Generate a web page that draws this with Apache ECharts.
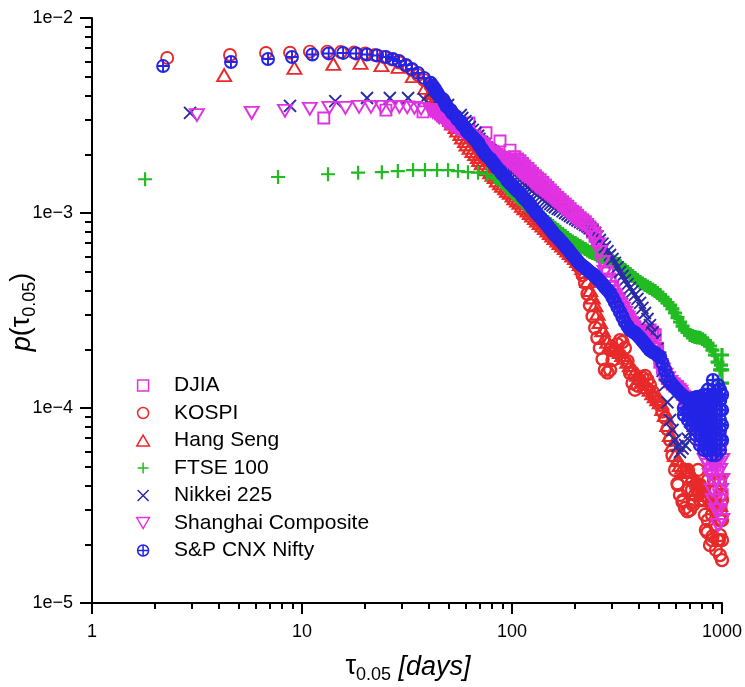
<!DOCTYPE html>
<html>
<head>
<meta charset="utf-8">
<script src="https://cdn.jsdelivr.net/npm/echarts@6/dist/echarts.min.js"></script>
<style>
  html, body { margin: 0; padding: 0; background: #fff; }
  #chart { width: 745px; height: 687px; }
</style>
</head>
<body>
<div id="chart"></div>
<script>
// ---- axis ticks -------------------------------------------------------
const xMajor = [1, 10, 100, 1000];
const xTickLabels = ['1', '10', '100', '1000'];
const xMinor = [2, 3, 4, 5, 6, 7, 8, 9, 20, 30, 40, 50, 60, 70, 80, 90, 200, 300, 400, 500, 600, 700, 800, 900];
const yMajor = [1e-5, 1e-4, 1e-3, 1e-2];
const yTickLabels = ['1e\u22125', '1e\u22124', '1e\u22123', '1e\u22122'];
const yMinor = [2e-5, 3e-5, 4e-5, 5e-5, 6e-5, 7e-5, 8e-5, 9e-5,
                2e-4, 3e-4, 4e-4, 5e-4, 6e-4, 7e-4, 8e-4, 9e-4,
                2e-3, 3e-3, 4e-3, 5e-3, 6e-3, 7e-3, 8e-3, 9e-3];

// ---- data -------------------------------------------------------------
// Return-interval positions (days) shared by the dense part of every curve
const tauGrid = [41, 42, 43, 44, 45, 47, 48, 49, 51, 52, 54, 55, 57, 58, 60, 61, 63, 65, 67, 69,
                 70, 72, 74, 76, 79, 81, 83, 85, 88, 90, 93, 95, 98, 101, 103, 106, 109, 112, 115, 119,
                 122, 125, 129, 132, 136, 140, 144, 148, 152, 156, 160, 165, 169, 174, 179, 184, 189, 194, 200, 205,
                 211, 217, 223, 229, 235, 242, 249, 255, 262, 270, 277, 285, 293, 301, 309, 318, 327, 336, 345, 355,
                 365, 375, 385, 396, 407, 418, 430, 442, 454, 467, 480, 493, 507, 521, 536, 550, 566, 581, 598, 614,
                 631, 649, 667, 685, 704, 724, 744, 765, 786, 808, 830, 853, 877, 901, 926, 952, 978];

// DJIA
const djiaHeadTau = [12.7, 25.1, 37.7, 50.1, 62.4, 75.2, 87.7, 97.8];
const djiaHeadP = [3.07e-3, 3.37e-3, 3.30e-3, 3.11e-3, 2.90e-3, 2.58e-3, 2.34e-3, 2.10e-3];
const djiaBodyStart = 34;
const djiaBodyP = [1.94e-3, 1.89e-3, 1.85e-3, 1.79e-3, 1.74e-3, 1.69e-3, 1.64e-3, 1.59e-3, 1.55e-3, 1.51e-3,
                   1.48e-3, 1.43e-3, 1.39e-3, 1.35e-3, 1.31e-3, 1.27e-3, 1.24e-3, 1.20e-3, 1.17e-3, 1.14e-3,
                   1.11e-3, 1.08e-3, 1.05e-3, 1.02e-3, 1.00e-3, 9.71e-4, 9.43e-4, 9.21e-4, 8.99e-4, 8.68e-4,
                   8.38e-4, 8.00e-4, 7.62e-4, 7.02e-4, 6.46e-4, 6.02e-4, 5.61e-4, 5.04e-4, 4.53e-4, 4.17e-4,
                   3.84e-4, 3.65e-4, 3.46e-4, 3.28e-4, 3.11e-4, 2.97e-4, 2.83e-4, 2.70e-4, 2.58e-4, 2.50e-4,
                   2.43e-4, 2.43e-4, 2.43e-4, 2.47e-4, 2.51e-4, 2.44e-4, 2.37e-4, 2.02e-4, 1.72e-4, 1.60e-4,
                   1.48e-4, 1.42e-4, 1.36e-4, 1.33e-4, 1.30e-4, 1.27e-4, 1.24e-4, 1.18e-4, 1.13e-4, 1.05e-4,
                   9.77e-5, 9.10e-5, 8.48e-5, 8.09e-5, 7.71e-5, 7.27e-5, 6.85e-5, 6.46e-5, 6.09e-5, 5.57e-5,
                   5.10e-5, 4.67e-5, 4.27e-5];
const djiaTailTau = [896, 936, 967, 989, 1000];
const djiaTailP = [4.81e-5, 3.37e-5, 4.03e-5, 3.00e-5, 3.58e-5];

// KOSPI
const kospiHeadTau = [2.28, 4.54, 6.74, 8.77, 10.9, 13.2, 15.3, 17.7, 20.0, 22.3, 24.6, 26.8, 29.0, 31.3, 33.4, 35.7, 38.1];
const kospiHeadP = [6.24e-3, 6.46e-3, 6.62e-3, 6.64e-3, 6.72e-3, 6.72e-3, 6.69e-3, 6.65e-3, 6.58e-3, 6.46e-3,
                    6.31e-3, 6.13e-3, 5.91e-3, 5.67e-3, 5.41e-3, 5.10e-3, 4.81e-3];
const kospiBodyStart = 0;
const kospiBodyP = [4.48e-3, 4.32e-3, 4.17e-3, 4.00e-3, 3.84e-3, 3.69e-3, 3.54e-3, 3.42e-3, 3.30e-3, 3.16e-3,
                    3.03e-3, 2.93e-3, 2.83e-3, 2.73e-3, 2.63e-3, 2.54e-3, 2.45e-3, 2.37e-3, 2.29e-3, 2.21e-3,
                    2.13e-3, 2.04e-3, 1.96e-3, 1.89e-3, 1.83e-3, 1.76e-3, 1.70e-3, 1.64e-3, 1.58e-3, 1.53e-3,
                    1.48e-3, 1.43e-3, 1.38e-3, 1.34e-3, 1.30e-3, 1.25e-3, 1.21e-3, 1.17e-3, 1.13e-3, 1.09e-3,
                    1.05e-3, 1.01e-3, 9.77e-4, 9.43e-4, 9.10e-4, 8.78e-4, 8.48e-4, 8.23e-4, 7.99e-4, 7.71e-4,
                    7.45e-4, 7.23e-4, 7.02e-4, 6.82e-4, 6.62e-4, 6.39e-4, 6.16e-4, 5.95e-4, 5.74e-4, 5.48e-4,
                    5.23e-4, 4.80e-4, 4.38e-4, 3.85e-4, 3.37e-4, 2.95e-4, 2.58e-4, 2.29e-4, 2.03e-4, 1.78e-4,
                    1.57e-4, 1.52e-4, 1.57e-4, 1.76e-4, 1.98e-4, 2.12e-4, 2.23e-4, 2.18e-4, 2.03e-4, 1.74e-4,
                    1.51e-4, 1.34e-4, 1.24e-4, 1.30e-4, 1.39e-4, 1.43e-4, 1.46e-4, 1.39e-4, 1.31e-4, 1.21e-4,
                    1.13e-4, 1.08e-4, 1.04e-4, 9.60e-5, 8.89e-5, 7.80e-5, 6.85e-5, 5.70e-5, 4.81e-5, 4.10e-5,
                    3.58e-5, 3.30e-5, 3.07e-5, 2.95e-5, 3.00e-5, 3.30e-5, 3.58e-5, 3.80e-5, 4.03e-5, 3.40e-5,
                    2.83e-5, 2.30e-5, 1.98e-5, 2.20e-5, 2.51e-5, 2.10e-5, 1.76e-5];
const kospiTailTau = [617, 652, 689, 728, 769, 812, 839, 867, 896, 916, 946, 967, 989, 1000, 1000,
                      821, 857, 857, 896, 896, 936, 936, 978, 978, 978, 1000, 1000, 786, 752, 719, 689];
const kospiTailP = [4.03e-5, 3.37e-5, 4.81e-5, 3.18e-5, 4.81e-5, 3.80e-5, 2.37e-5, 3.37e-5, 2.10e-5, 4.27e-5,
                    3.00e-5, 2.10e-5, 3.58e-5, 2.66e-5, 1.66e-5,
                    3.37e-5, 4.27e-5, 2.66e-5, 3.80e-5, 2.83e-5, 3.80e-5, 1.87e-5, 4.27e-5, 2.66e-5, 2.23e-5,
                    3.37e-5, 2.10e-5, 3.37e-5, 4.03e-5, 3.80e-5, 3.80e-5];

// Hang Seng
const hsHeadTau = [4.26, 9.2, 14.1, 19.0, 23.9, 28.8, 33.7, 38.6];
const hsHeadP = [5.10e-3, 5.55e-3, 5.81e-3, 5.88e-3, 5.74e-3, 5.61e-3, 5.04e-3, 4.38e-3];
const hsBodyStart = 0;
const hsBodyP = [4.13e-3, 3.98e-3, 3.84e-3, 3.69e-3, 3.54e-3, 3.40e-3, 3.26e-3, 3.13e-3, 3.00e-3, 2.88e-3,
                 2.76e-3, 2.65e-3, 2.54e-3, 2.44e-3, 2.34e-3, 2.25e-3, 2.16e-3, 2.08e-3, 2.01e-3, 1.94e-3,
                 1.87e-3, 1.80e-3, 1.74e-3, 1.68e-3, 1.62e-3, 1.57e-3, 1.53e-3, 1.47e-3, 1.42e-3, 1.38e-3,
                 1.34e-3, 1.30e-3, 1.27e-3, 1.23e-3, 1.19e-3, 1.16e-3, 1.13e-3, 1.09e-3, 1.06e-3, 1.03e-3,
                 1.00e-3, 9.71e-4, 9.43e-4, 9.16e-4, 8.89e-4, 8.63e-4, 8.38e-4, 8.14e-4, 7.90e-4, 7.67e-4,
                 7.45e-4, 7.23e-4, 7.02e-4, 6.82e-4, 6.62e-4, 6.43e-4, 6.24e-4, 6.06e-4, 5.88e-4, 5.68e-4,
                 5.48e-4, 5.23e-4, 4.98e-4, 4.48e-4, 4.03e-4, 3.69e-4, 3.37e-4, 3.05e-4, 2.76e-4, 2.51e-4,
                 2.29e-4, 2.19e-4, 2.10e-4, 2.06e-4, 2.03e-4, 1.98e-4, 1.94e-4, 1.87e-4, 1.81e-4, 1.73e-4,
                 1.66e-4, 1.59e-4, 1.53e-4, 1.48e-4, 1.43e-4, 1.38e-4, 1.33e-4, 1.28e-4, 1.24e-4, 1.19e-4,
                 1.15e-4, 1.11e-4, 1.07e-4, 9.90e-5, 9.21e-5, 8.18e-5, 7.27e-5, 6.46e-5, 5.74e-5, 5.41e-5,
                 5.10e-5, 4.95e-5, 4.81e-5, 4.75e-5, 4.70e-5, 4.48e-5, 4.27e-5, 4.15e-5, 4.03e-5, 3.90e-5,
                 3.80e-5, 3.58e-5, 3.37e-5, 3.27e-5, 3.18e-5, 3.18e-5, 3.18e-5];
const hsTailTau = [];
const hsTailP = [];

// FTSE 100
const ftseHeadTau = [1.79, 7.69, 13.3, 18.5, 24.0, 28.6, 33.8, 38.5, 44.0, 49.6, 55.3, 61.7, 68.9, 76.0];
const ftseHeadP = [1.49e-3, 1.53e-3, 1.58e-3, 1.61e-3, 1.62e-3, 1.64e-3, 1.66e-3, 1.66e-3, 1.66e-3, 1.66e-3,
                   1.64e-3, 1.62e-3, 1.61e-3, 1.58e-3];
const ftseBodyStart = 26;
const ftseBodyP = [1.53e-3, 1.50e-3, 1.48e-3, 1.43e-3, 1.39e-3, 1.35e-3, 1.31e-3, 1.27e-3, 1.24e-3, 1.21e-3,
                   1.18e-3, 1.14e-3, 1.11e-3, 1.08e-3, 1.06e-3, 1.03e-3, 1.01e-3, 9.87e-4, 9.65e-4, 9.43e-4,
                   9.21e-4, 8.99e-4, 8.78e-4, 8.58e-4, 8.38e-4, 8.18e-4, 7.99e-4, 7.80e-4, 7.62e-4, 7.44e-4,
                   7.27e-4, 7.14e-4, 7.02e-4, 6.89e-4, 6.77e-4, 6.65e-4, 6.54e-4, 6.42e-4, 6.31e-4, 6.23e-4,
                   6.16e-4, 6.09e-4, 6.02e-4, 5.95e-4, 5.88e-4, 5.81e-4, 5.74e-4, 5.67e-4, 5.61e-4, 5.48e-4,
                   5.35e-4, 5.22e-4, 5.10e-4, 4.98e-4, 4.87e-4, 4.75e-4, 4.64e-4, 4.53e-4, 4.43e-4, 4.35e-4,
                   4.27e-4, 4.20e-4, 4.13e-4, 4.05e-4, 3.98e-4, 3.89e-4, 3.80e-4, 3.69e-4, 3.58e-4, 3.47e-4,
                   3.37e-4, 3.22e-4, 3.07e-4, 2.91e-4, 2.76e-4, 2.63e-4, 2.51e-4, 2.44e-4, 2.37e-4, 2.34e-4,
                   2.31e-4, 2.30e-4, 2.29e-4, 2.25e-4, 2.21e-4, 2.15e-4, 2.08e-4, 1.98e-4, 1.87e-4, 1.72e-4,
                   1.57e-4];
const ftseTailTau = [989, 1000, 1000, 1000];
const ftseTailP = [1.66e-4, 1.87e-4, 1.57e-4, 1.34e-4];

// Nikkei 225
const nikkeiHeadTau = [2.93, 8.77, 14.4, 20.4, 26.2, 32.0, 38.1, 43.5, 49.6];
const nikkeiHeadP = [3.26e-3, 3.54e-3, 3.75e-3, 3.89e-3, 3.89e-3, 3.89e-3, 3.84e-3, 3.75e-3, 3.58e-3];
const nikkeiBodyStart = 12;
const nikkeiBodyP = [3.18e-3, 3.07e-3, 2.96e-3, 2.86e-3, 2.76e-3, 2.67e-3, 2.58e-3, 2.49e-3, 2.40e-3, 2.31e-3,
                     2.23e-3, 2.16e-3, 2.10e-3, 2.04e-3, 1.98e-3, 1.92e-3, 1.87e-3, 1.81e-3, 1.76e-3, 1.71e-3,
                     1.66e-3, 1.61e-3, 1.57e-3, 1.52e-3, 1.48e-3, 1.43e-3, 1.39e-3, 1.36e-3, 1.33e-3, 1.30e-3,
                     1.27e-3, 1.24e-3, 1.21e-3, 1.18e-3, 1.15e-3, 1.13e-3, 1.11e-3, 1.09e-3, 1.07e-3, 1.05e-3,
                     1.04e-3, 1.02e-3, 1.00e-3, 9.82e-4, 9.65e-4, 9.48e-4, 9.32e-4, 9.15e-4, 8.99e-4, 8.83e-4,
                     8.68e-4, 8.53e-4, 8.38e-4, 8.14e-4, 7.90e-4, 7.58e-4, 7.27e-4, 6.97e-4, 6.69e-4, 6.38e-4,
                     6.09e-4, 5.81e-4, 5.55e-4, 5.26e-4, 4.98e-4, 4.75e-4, 4.53e-4, 4.32e-4, 4.13e-4, 3.96e-4,
                     3.80e-4, 3.63e-4, 3.46e-4, 3.26e-4, 3.07e-4, 2.86e-4, 2.66e-4, 2.44e-4, 2.23e-4, 2.01e-4,
                     1.81e-4, 1.55e-4, 1.31e-4, 1.07e-4, 8.68e-5, 7.71e-5, 6.85e-5, 6.38e-5, 5.95e-5, 6.20e-5,
                     6.46e-5, 6.97e-5, 7.53e-5, 8.09e-5, 8.68e-5, 8.94e-5, 9.21e-5, 9.05e-5, 8.89e-5, 8.53e-5,
                     8.18e-5, 7.94e-5, 7.71e-5, 7.80e-5, 7.90e-5];
const nikkeiTailTau = [];
const nikkeiTailP = [];

// Shanghai Composite
const shHeadTau = [3.16, 5.76, 8.3, 10.9, 13.5, 16.1, 18.7, 21.3, 23.9, 26.5, 29.1, 31.7, 34.3, 36.9];
const shHeadP = [3.18e-3, 3.26e-3, 3.34e-3, 3.42e-3, 3.46e-3, 3.46e-3, 3.50e-3, 3.50e-3, 3.50e-3, 3.50e-3,
                 3.50e-3, 3.48e-3, 3.46e-3, 3.42e-3];
const shBodyStart = 0;
const shBodyP = [3.37e-3, 3.31e-3, 3.26e-3, 3.18e-3, 3.11e-3, 3.03e-3, 2.96e-3, 2.91e-3, 2.86e-3, 2.81e-3,
                 2.76e-3, 2.71e-3, 2.66e-3, 2.63e-3, 2.60e-3, 2.54e-3, 2.48e-3, 2.42e-3, 2.37e-3, 2.31e-3,
                 2.26e-3, 2.21e-3, 2.16e-3, 2.11e-3, 2.06e-3, 2.02e-3, 1.98e-3, 1.95e-3, 1.92e-3, 1.89e-3,
                 1.87e-3, 1.84e-3, 1.81e-3, 1.76e-3, 1.72e-3, 1.67e-3, 1.62e-3, 1.58e-3, 1.55e-3, 1.51e-3,
                 1.48e-3, 1.43e-3, 1.39e-3, 1.36e-3, 1.33e-3, 1.30e-3, 1.27e-3, 1.24e-3, 1.21e-3, 1.18e-3,
                 1.15e-3, 1.12e-3, 1.09e-3, 1.06e-3, 1.04e-3, 1.01e-3, 9.88e-4, 9.60e-4, 9.32e-4, 9.15e-4,
                 8.99e-4, 8.83e-4, 8.68e-4, 8.43e-4, 8.18e-4, 7.85e-4, 7.53e-4, 6.90e-4, 6.31e-4, 5.60e-4,
                 4.98e-4, 4.56e-4, 4.17e-4, 3.95e-4, 3.75e-4, 3.55e-4, 3.37e-4, 3.22e-4, 3.07e-4, 2.90e-4,
                 2.73e-4, 2.59e-4, 2.45e-4, 2.37e-4, 2.29e-4, 2.23e-4, 2.18e-4, 2.13e-4, 2.08e-4, 2.01e-4,
                 1.94e-4, 1.80e-4, 1.66e-4, 1.57e-4, 1.48e-4, 1.42e-4, 1.36e-4, 1.32e-4, 1.28e-4, 1.24e-4,
                 1.21e-4, 1.14e-4, 1.07e-4, 9.75e-5, 8.89e-5, 8.38e-5, 7.90e-5, 7.67e-5, 7.45e-5, 7.23e-5,
                 7.02e-5, 6.73e-5, 6.46e-5, 6.09e-5, 5.74e-5, 5.25e-5, 4.81e-5];
const shTailTau = [830, 877, 906, 936, 967, 989, 1000, 957, 896,
                   786, 830, 857, 896, 936, 936, 978, 978, 1000, 1000, 957];
const shTailP = [5.41e-5, 4.53e-5, 3.37e-5, 4.27e-5, 3.00e-5, 3.80e-5, 2.66e-5, 6.85e-5, 8.68e-5,
                 6.46e-5, 5.95e-5, 5.10e-5, 3.80e-5, 5.41e-5, 3.00e-5, 6.09e-5, 3.37e-5, 5.41e-5, 4.27e-5, 2.51e-5];

// S&P CNX Nifty
const niftyHeadTau = [2.18, 4.59, 6.89, 8.96, 11.2, 13.4, 15.7, 18.1, 20.4, 22.8, 25.1, 27.1, 29.0, 31.3, 33.4, 35.7, 38.1];
const niftyHeadP = [5.67e-3, 5.95e-3, 6.16e-3, 6.31e-3, 6.50e-3, 6.58e-3, 6.62e-3, 6.58e-3, 6.50e-3, 6.42e-3,
                    6.31e-3, 6.16e-3, 6.02e-3, 5.74e-3, 5.48e-3, 5.23e-3, 4.93e-3];
const niftyBodyStart = 0;
const niftyBodyP = [4.64e-3, 4.48e-3, 4.32e-3, 4.15e-3, 3.98e-3, 3.82e-3, 3.66e-3, 3.51e-3, 3.37e-3, 3.25e-3,
                    3.14e-3, 3.03e-3, 2.93e-3, 2.83e-3, 2.73e-3, 2.63e-3, 2.54e-3, 2.45e-3, 2.37e-3, 2.29e-3,
                    2.21e-3, 2.12e-3, 2.03e-3, 1.96e-3, 1.89e-3, 1.82e-3, 1.76e-3, 1.70e-3, 1.64e-3, 1.58e-3,
                    1.53e-3, 1.47e-3, 1.42e-3, 1.38e-3, 1.34e-3, 1.30e-3, 1.27e-3, 1.22e-3, 1.18e-3, 1.14e-3,
                    1.10e-3, 1.06e-3, 1.02e-3, 9.86e-4, 9.54e-4, 9.21e-4, 8.89e-4, 8.58e-4, 8.28e-4, 7.99e-4,
                    7.71e-4, 7.49e-4, 7.27e-4, 7.02e-4, 6.77e-4, 6.54e-4, 6.31e-4, 6.09e-4, 5.88e-4, 5.68e-4,
                    5.48e-4, 5.35e-4, 5.23e-4, 5.10e-4, 4.98e-4, 4.87e-4, 4.75e-4, 4.61e-4, 4.48e-4, 4.32e-4,
                    4.17e-4, 4.03e-4, 3.89e-4, 3.69e-4, 3.50e-4, 3.30e-4, 3.11e-4, 2.93e-4, 2.76e-4, 2.63e-4,
                    2.51e-4, 2.47e-4, 2.43e-4, 2.36e-4, 2.29e-4, 2.21e-4, 2.13e-4, 2.05e-4, 1.98e-4, 1.94e-4,
                    1.91e-4, 1.87e-4, 1.83e-4, 1.70e-4, 1.57e-4, 1.46e-4, 1.36e-4, 1.31e-4, 1.27e-4, 1.23e-4,
                    1.19e-4, 1.16e-4, 1.13e-4, 1.11e-4, 1.10e-4, 1.12e-4, 1.13e-4, 1.14e-4, 1.14e-4, 1.10e-4,
                    1.07e-4, 1.03e-4, 1.00e-4, 1.08e-4, 1.17e-4, 1.13e-4, 1.10e-4];
const niftyTailTau = [659, 659, 689, 689, 719, 719, 719, 752, 752, 752, 752,
                      786, 786, 786, 786, 786, 821, 821, 821, 821, 821, 821,
                      857, 857, 857, 857, 857, 857, 896, 896, 896, 896, 896, 896, 896,
                      936, 936, 936, 936, 936, 936, 936, 978, 978, 978, 978, 978, 978, 978,
                      1000, 1000, 1000, 1000, 957, 906, 857];
const niftyTailP = [1.00e-4, 9.21e-5, 9.77e-5, 8.68e-5, 1.04e-4, 9.21e-5, 8.18e-5, 1.04e-4, 9.21e-5, 8.18e-5, 7.27e-5,
                    1.04e-4, 9.21e-5, 8.18e-5, 7.27e-5, 6.46e-5, 1.17e-4, 9.77e-5, 8.68e-5, 7.71e-5, 6.85e-5, 6.09e-5,
                    1.17e-4, 9.77e-5, 8.68e-5, 7.71e-5, 6.85e-5, 6.09e-5, 1.17e-4, 1.04e-4, 9.21e-5, 8.18e-5, 7.27e-5, 6.46e-5, 5.74e-5,
                    1.17e-4, 1.04e-4, 9.21e-5, 8.18e-5, 7.27e-5, 6.46e-5, 5.74e-5, 1.24e-4, 1.10e-4, 9.77e-5, 8.68e-5, 7.71e-5, 6.85e-5, 6.09e-5,
                    1.17e-4, 9.77e-5, 8.18e-5, 6.85e-5, 1.31e-4, 1.39e-4, 1.24e-4];

// ---- helpers ----------------------------------------------------------
function pairUp(tau, p) {
  return tau.map((t, i) => [t, p[i]]);
}
function densePoints(bodyStart, bodyP, tailTau, tailP) {
  return bodyP.map((p, i) => [tauGrid[bodyStart + i], p]).concat(pairUp(tailTau, tailP));
}

const FONT = "'Liberation Sans', Arial, Helvetica, sans-serif";

const SYM = {
  square: 'path://M0,0L10,0L10,10L0,10Z',
  circle: 'path://M0,5A5,5,0,1,1,10,5A5,5,0,1,1,0,5Z',
  triUp: 'path://M5,0L10,8.66L0,8.66Z',
  triDown: 'path://M0,0L10,0L5,8.66Z',
  plus: 'path://M0,5L10,5M5,0L5,10',
  cross: 'path://M0,0L10,10M10,0L0,10',
  oplus: 'path://M0,5A5,5,0,1,1,10,5A5,5,0,1,1,0,5ZM5,0L5,10M0,5L10,5'
};

const MAGENTA = '#e032e0';
const RED = '#e82a2a';
const GREEN = '#22bb22';
const NAVY = '#2a2aa6';
const BLUE = '#2424e6';

// lw: stroke of the isolated markers, dlw: stroke where the markers pile up
const seriesDefs = [
  { name: 'DJIA', color: MAGENTA, symbol: SYM.square, size: 11, lw: 1.9, dlw: 2.3,
    head: pairUp(djiaHeadTau, djiaHeadP),
    dense: densePoints(djiaBodyStart, djiaBodyP, djiaTailTau, djiaTailP) },
  { name: 'KOSPI', color: RED, symbol: SYM.circle, size: 12, lw: 1.9, dlw: 2.4,
    head: pairUp(kospiHeadTau, kospiHeadP),
    dense: densePoints(kospiBodyStart, kospiBodyP, kospiTailTau, kospiTailP) },
  { name: 'Hang Seng', color: RED, symbol: SYM.triUp, size: [14, 12], lw: 1.9, dlw: 2.3,
    head: pairUp(hsHeadTau, hsHeadP),
    dense: densePoints(hsBodyStart, hsBodyP, hsTailTau, hsTailP) },
  { name: 'FTSE 100', color: GREEN, symbol: SYM.plus, size: 14, lw: 2.2, dlw: 3.2,
    head: pairUp(ftseHeadTau, ftseHeadP),
    dense: densePoints(ftseBodyStart, ftseBodyP, ftseTailTau, ftseTailP) },
  { name: 'Nikkei 225', color: NAVY, symbol: SYM.cross, size: 12, lw: 1.9, dlw: 1.9,
    head: pairUp(nikkeiHeadTau, nikkeiHeadP),
    dense: densePoints(nikkeiBodyStart, nikkeiBodyP, nikkeiTailTau, nikkeiTailP) },
  { name: 'Shanghai Composite', color: MAGENTA, symbol: SYM.triDown, size: [14, 12], lw: 1.9, dlw: 2.3,
    head: pairUp(shHeadTau, shHeadP),
    dense: densePoints(shBodyStart, shBodyP, shTailTau, shTailP) },
  { name: 'S&P CNX Nifty', color: BLUE, symbol: SYM.oplus, size: 12, lw: 1.9, dlw: 2.4,
    head: pairUp(niftyHeadTau, niftyHeadP),
    dense: densePoints(niftyBodyStart, niftyBodyP, niftyTailTau, niftyTailP) }
];

function scatterSeries(s, data, lw) {
  return {
    name: s.name,
    type: 'scatter',
    xAxisIndex: 0, yAxisIndex: 0,
    symbol: s.symbol,
    symbolSize: s.size,
    itemStyle: { color: 'rgba(0,0,0,0)', borderColor: s.color, borderWidth: lw, opacity: 1 },
    emphasis: { disabled: true },
    silent: true,
    large: false,
    data: data
  };
}

const gridRect = { left: 92, top: 18, width: 630, height: 585 };

const option = {
  animation: false,
  backgroundColor: '#ffffff',
  grid: [Object.assign({}, gridRect), Object.assign({}, gridRect)],
  xAxis: [
    {
      gridIndex: 0, type: 'log', logBase: 10, min: 1, max: 1000,
      axisLine: { show: true, onZero: false, lineStyle: { color: '#000', width: 2 } },
      axisTick: { show: true, inside: false, length: 11, lineStyle: { color: '#000', width: 2 }, customValues: xMajor },
      minorTick: { show: false },
      axisLabel: {
        show: true, customValues: xMajor, margin: 20, color: '#000', fontSize: 18, fontFamily: FONT,
        formatter: v => xTickLabels[Math.round(Math.log10(v))]
      },
      splitLine: { show: false }
    },
    {
      gridIndex: 1, type: 'log', logBase: 10, min: 1, max: 1000,
      axisLine: { show: false },
      axisTick: { show: true, inside: false, length: 6, lineStyle: { color: '#000', width: 2 }, customValues: xMinor },
      axisLabel: { show: false },
      splitLine: { show: false }
    }
  ],
  yAxis: [
    {
      gridIndex: 0, type: 'log', logBase: 10, min: 1e-5, max: 1e-2,
      axisLine: { show: true, onZero: false, lineStyle: { color: '#000', width: 2 } },
      axisTick: { show: true, inside: false, length: 12, lineStyle: { color: '#000', width: 2 }, customValues: yMajor },
      minorTick: { show: false },
      axisLabel: {
        show: true, customValues: yMajor, margin: 19, color: '#000', fontSize: 18, fontFamily: FONT,
        formatter: v => yTickLabels[Math.round(Math.log10(v)) + 5]
      },
      splitLine: { show: false }
    },
    {
      gridIndex: 1, type: 'log', logBase: 10, min: 1e-5, max: 1e-2,
      axisLine: { show: false },
      axisTick: { show: true, inside: false, length: 7, lineStyle: { color: '#000', width: 2 }, customValues: yMinor },
      axisLabel: { show: false },
      splitLine: { show: false }
    }
  ],
  legend: {
    orient: 'vertical', left: 136, top: 375, padding: 0,
    itemWidth: 52, itemHeight: 11, itemGap: 6.5,
    selectedMode: false,
    textStyle: { fontSize: 21, lineHeight: 20, color: '#000', fontFamily: FONT },
    data: seriesDefs.map(s => ({
      name: s.name, icon: s.symbol,
      itemStyle: { color: 'rgba(0,0,0,0)', borderColor: s.color, borderWidth: 1.5 }
    }))
  },
  graphic: [
    {
      type: 'text', x: 408, y: 667,
      style: {
        text: '{t|\u03c4}{s|0.05}{n| }{i|[days]}',
        align: 'center', verticalAlign: 'middle', fill: '#000',
        rich: {
          t: { fontSize: 27, fontFamily: FONT, lineHeight: 34, fill: '#000' },
          s: { fontSize: 18, fontFamily: FONT, verticalAlign: 'bottom', fill: '#000' },
          n: { fontSize: 27, fontFamily: FONT, lineHeight: 34, fill: '#000' },
          i: { fontSize: 27, fontFamily: FONT, fontStyle: 'italic', lineHeight: 34, fill: '#000' }
        }
      }
    },
    {
      type: 'text', x: 22, y: 312, rotation: Math.PI / 2,
      style: {
        text: '{i|p}{n|(\u03c4}{s|0.05}{n|)}',
        align: 'center', verticalAlign: 'middle', fill: '#000',
        rich: {
          i: { fontSize: 27, fontFamily: FONT, fontStyle: 'italic', lineHeight: 34, fill: '#000' },
          n: { fontSize: 27, fontFamily: FONT, lineHeight: 34, fill: '#000' },
          s: { fontSize: 18, fontFamily: FONT, verticalAlign: 'bottom', fill: '#000' }
        }
      }
    }
  ],
  series: seriesDefs.reduce((list, s) => {
    list.push(scatterSeries(s, s.head, s.lw));
    list.push(scatterSeries(s, s.dense, s.dlw));
    return list;
  }, [])
};

const chart = echarts.init(document.getElementById('chart'), null, { renderer: 'canvas' });
chart.setOption(option);
</script>
</body>
</html>
